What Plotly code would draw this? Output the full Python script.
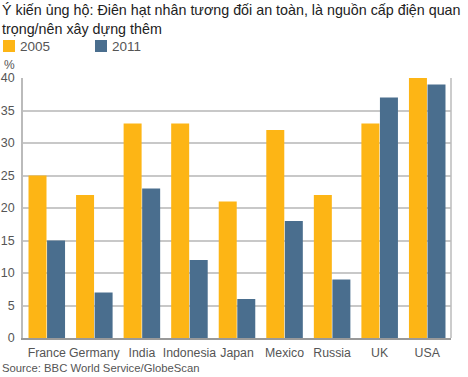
import plotly.graph_objects as go

countries = ["France", "Germany", "India", "Indonesia", "Japan", "Mexico", "Russia", "UK", "USA"]
values_2005 = [25, 22, 33, 33, 21, 32, 22, 33, 40]
values_2011 = [15, 7, 23, 12, 6, 18, 9, 37, 39]
y_ticks = [0, 5, 10, 15, 20, 25, 30, 35, 40]

W, H = 468, 377
ML, MR, MT, MB = 23, 17, 78, 39
C05 = "#FDB515"
C11 = "#4A6E8E"
GRAY = "#555555"
FONT = "Liberation Sans, Arial, sans-serif"

fig = go.Figure()
fig.add_trace(go.Bar(x=countries, y=values_2005, name="2005", marker=dict(color=C05, line=dict(width=0))))
fig.add_trace(go.Bar(x=countries, y=values_2011, name="2011", marker=dict(color=C11, line=dict(width=0))))

def px(x):
    return (x - ML) / (W - ML - MR)

def py(y):
    return (H - MB - y) / (H - MT - MB)

shapes = [
    dict(type="rect", xref="paper", yref="paper", x0=px(3), x1=px(15), y0=py(52), y1=py(40),
         fillcolor=C05, line=dict(width=0)),
    dict(type="rect", xref="paper", yref="paper", x0=px(95), x1=px(107), y0=py(52), y1=py(40),
         fillcolor=C11, line=dict(width=0)),
    dict(type="line", xref="paper", yref="paper", x0=1, x1=1, y0=0, y1=1,
         line=dict(color="#BBBBBB", width=1.5)),
]

annotations = [
    dict(text="Ý kiến ủng hộ: Điên hạt nhân tương đối an toàn, là nguồn cấp điện quan<br>trọng/nên xây dựng thêm",
         xref="paper", yref="paper", x=px(0), y=py(0), xanchor="left", yanchor="top", align="left",
         showarrow=False, font=dict(size=14.3, color="#222222", family=FONT)),
    dict(text="2005", xref="paper", yref="paper", x=px(18), y=py(46), xanchor="left", yanchor="middle",
         showarrow=False, font=dict(size=13.5, color=GRAY, family=FONT)),
    dict(text="2011", xref="paper", yref="paper", x=px(110), y=py(46), xanchor="left", yanchor="middle",
         showarrow=False, font=dict(size=13.5, color=GRAY, family=FONT)),
    dict(text="%", xref="paper", yref="paper", x=px(2), y=py(65), xanchor="left", yanchor="middle",
         showarrow=False, font=dict(size=12, color=GRAY, family=FONT)),
    dict(text="Source: BBC World Service/GlobeScan", xref="paper", yref="paper", x=px(0), y=py(368),
         xanchor="left", yanchor="middle", showarrow=False, font=dict(size=11.3, color=GRAY, family=FONT)),
]

fig.update_layout(
    width=W, height=H,
    margin=dict(l=ML, r=MR, t=MT, b=MB, pad=0, autoexpand=False),
    paper_bgcolor="white", plot_bgcolor="white",
    barmode="group", bargap=0.22, bargroupgap=0.03,
    showlegend=False,
    font=dict(family=FONT, color=GRAY, size=12),
    shapes=shapes, annotations=annotations,
    xaxis=dict(showgrid=False, showline=True, linecolor="#999999", linewidth=2, automargin=False,
               ticks="", tickangle=0, tickfont=dict(size=12.3, color=GRAY), ticklabelstandoff=2,
               fixedrange=True),
    yaxis=dict(range=[0, 40], tickvals=y_ticks, showgrid=True, gridcolor="#C8C8C8", gridwidth=1.5,
               showline=True, linecolor="#BBBBBB", linewidth=1.5, zeroline=False, automargin=False,
               ticks="", tickfont=dict(size=12.5, color=GRAY), ticklabelstandoff=4, fixedrange=True),
)

fig.write_html("out.html", config={"displayModeBar": False},
               post_script="document.body.style.margin='0';document.body.style.padding='0';")
